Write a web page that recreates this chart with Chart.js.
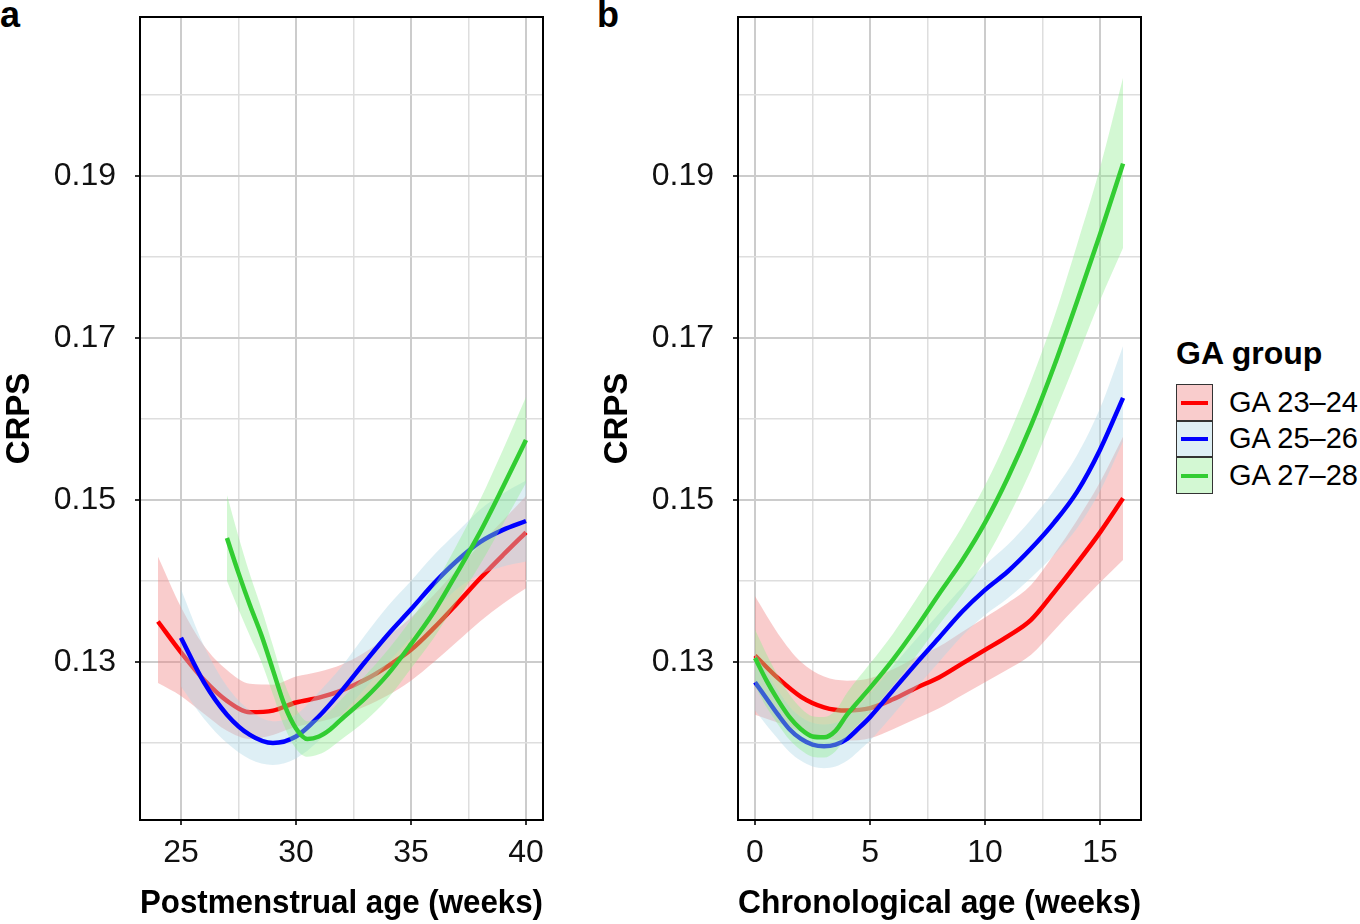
<!DOCTYPE html>
<html>
<head>
<meta charset="utf-8">
<script src="https://cdn.jsdelivr.net/npm/chart.js@4.4.1/dist/chart.umd.min.js"></script>
<style>
  html,body{margin:0;padding:0;background:#fff;}
  body{width:1360px;height:924px;position:relative;overflow:hidden;font-family:"Liberation Sans",Arial,sans-serif;color:#000;}
  .panel{position:absolute;top:0;width:560px;height:924px;}
  .tag{position:absolute;top:-6px;font-weight:bold;font-size:36px;}
  #legend{position:absolute;left:1176px;top:335px;}
  #legend .ttl{font-weight:bold;font-size:32px;margin-bottom:12px;}
  .key{display:flex;align-items:center;height:36.5px;}
  .box{width:35px;height:34.5px;border:1.2px solid #333;position:relative;box-sizing:content-box;}
  .box i{position:absolute;left:4px;right:4px;top:15.5px;height:4px;}
  .key span{font-size:29px;margin-left:16px;}
</style>
</head>
<body>
<div class="tag" style="left:0">a</div>
<div class="tag" style="left:597px">b</div>
<div class="panel" style="left:0"><canvas id="chartA" width="560" height="924"></canvas></div>
<div class="panel" style="left:598px"><canvas id="chartB" width="560" height="924"></canvas></div>
<div id="legend">
  <div class="ttl">GA group</div>
  <div class="key"><div class="box" style="background:rgba(240,128,128,.4)"><i style="background:#ff0000"></i></div><span>GA 23–24</span></div>
  <div class="key"><div class="box" style="background:rgba(173,216,230,.4)"><i style="background:#0000ff"></i></div><span>GA 25–26</span></div>
  <div class="key"><div class="box" style="background:rgba(144,238,144,.4)"><i style="background:#32cd32"></i></div><span>GA 27–28</span></div>
</div>
<script>
// ---- panel a: postmenstrual age ----
var pmaAge23 = [24,25,26,27,28,29,30,31,32,33,34,35,36,37,38,39,40];
var pmaMean23 = [0.1350,0.1312,0.1278,0.1252,0.1238,0.1240,0.1250,0.1256,0.1265,0.1278,0.1295,0.1315,0.1342,0.1372,0.1403,0.1432,0.1460];
var pmaLow23  = [0.1274,0.1258,0.1236,0.1215,0.1205,0.1210,0.1220,0.1226,0.1234,0.1245,0.1259,0.1277,0.1300,0.1325,0.1350,0.1372,0.1391];
var pmaHigh23 = [0.1430,0.1368,0.1320,0.1290,0.1273,0.1272,0.1282,0.1288,0.1297,0.1312,0.1332,0.1355,0.1383,0.1414,0.1445,0.1475,0.1505];

var pmaAge25 = [25,26,27,28,29,30,31,32,33,34,35,36,37,38,39,40];
var pmaMean25 = [0.1330,0.1275,0.1235,0.1210,0.1200,0.1208,0.1233,0.1265,0.1300,0.1334,0.1365,0.1397,0.1425,0.1448,0.1463,0.1474];
var pmaLow25  = [0.1270,0.1230,0.1200,0.1180,0.1173,0.1181,0.1203,0.1235,0.1267,0.1299,0.1330,0.1362,0.1390,0.1408,0.1418,0.1424];
var pmaHigh25 = [0.1390,0.1320,0.1270,0.1240,0.1227,0.1235,0.1263,0.1295,0.1333,0.1369,0.1400,0.1432,0.1460,0.1488,0.1508,0.1524];

var pmaAge27 = [27,27.5,28,28.5,29,29.5,30,30.5,31,31.5,32,33,34,35,36,37,38,39,40];
var pmaMean27 = [0.1453,0.1410,0.1370,0.1333,0.1290,0.1247,0.1218,0.1205,0.1208,0.1217,0.1230,0.1255,0.1285,0.1322,0.1362,0.1410,0.1460,0.1516,0.1574];
var pmaLow27  = [0.1400,0.1365,0.1332,0.1300,0.1260,0.1220,0.1193,0.1183,0.1186,0.1194,0.1205,0.1227,0.1255,0.1292,0.1330,0.1375,0.1420,0.1470,0.1521];
var pmaHigh27 = [0.1506,0.1455,0.1408,0.1366,0.1320,0.1274,0.1243,0.1227,0.1230,0.1240,0.1255,0.1283,0.1315,0.1352,0.1394,0.1445,0.1500,0.1562,0.1627];

// ---- panel b: chronological age ----
var caAge23 = [0,1,2,3,4,5,6,7,8,9,10,11,12,13,14,15,16];
var caMean23 = [0.1308,0.1280,0.1257,0.1244,0.1240,0.1243,0.1254,0.1268,0.1281,0.1298,0.1315,0.1332,0.1352,0.1386,0.1422,0.1460,0.1502];
var caLow23  = [0.1235,0.1225,0.1214,0.1206,0.1203,0.1206,0.1217,0.1230,0.1243,0.1259,0.1275,0.1291,0.1309,0.1339,0.1369,0.1398,0.1426];
var caHigh23 = [0.1381,0.1335,0.1300,0.1282,0.1277,0.1280,0.1291,0.1306,0.1319,0.1337,0.1355,0.1373,0.1395,0.1433,0.1475,0.1522,0.1578];

var caAge25 = [0,0.5,1,1.5,2,2.5,3,3.5,4,4.5,5,6,7,8,9,10,11,12,13,14,15,16];
var caMean25 = [0.1275,0.1255,0.1235,0.1217,0.1205,0.1198,0.1196,0.1198,0.1205,0.1218,0.1232,0.1265,0.1298,0.1330,0.1362,0.1389,0.1412,0.1440,0.1472,0.1510,0.1562,0.1626];
var caLow25  = [0.1240,0.1222,0.1205,0.1189,0.1178,0.1171,0.1169,0.1171,0.1178,0.1190,0.1203,0.1235,0.1268,0.1300,0.1332,0.1358,0.1379,0.1404,0.1432,0.1465,0.1511,0.1572];
var caHigh25 = [0.1310,0.1288,0.1265,0.1245,0.1232,0.1225,0.1223,0.1225,0.1232,0.1246,0.1261,0.1295,0.1328,0.1360,0.1392,0.1420,0.1445,0.1476,0.1512,0.1555,0.1613,0.1690];

var caAge27 = [0,0.5,1,1.5,2,2.5,3,3.5,4,5,6,7,8,9,10,11,12,13,14,15,16];
var caMean27 = [0.1305,0.1277,0.1253,0.1232,0.1217,0.1208,0.1207,0.1215,0.1235,0.1268,0.1303,0.1342,0.1384,0.1425,0.1472,0.1528,0.1592,0.1665,0.1745,0.1828,0.1915];
var caLow27  = [0.1270,0.1244,0.1223,0.1204,0.1191,0.1183,0.1182,0.1190,0.1208,0.1238,0.1271,0.1307,0.1346,0.1383,0.1426,0.1478,0.1537,0.1605,0.1675,0.1746,0.1811];
var caHigh27 = [0.1340,0.1310,0.1283,0.1260,0.1243,0.1233,0.1232,0.1240,0.1262,0.1298,0.1335,0.1377,0.1422,0.1467,0.1518,0.1578,0.1647,0.1725,0.1815,0.1910,0.2021];

// ticks / gridlines
var yTicks = [0.12,0.13,0.14,0.15,0.16,0.17,0.18,0.19,0.20];
var yMajor = [0.13,0.15,0.17,0.19];
var pmaTicks = [25,27.5,30,32.5,35,37.5,40];
var pmaMajor = [25,30,35,40];
var caTicks = [0,2.5,5,7.5,10,12.5,15];
var caMajor = [0,5,10,15];

var lineCols = ['#ff0000','#0000ff','#32cd32'];
var bandCols = ['rgba(240,128,128,0.4)','rgba(173,216,230,0.4)','rgba(144,238,144,0.4)'];

function pts(xs, ys){ return xs.map(function(x,i){ return {x:x, y:ys[i]}; }); }
function isIn(list, v){ return list.some(function(m){ return Math.abs(m-v) < 1e-6; }); }

function groupSets(xs, mean, lo, hi, k){
  var base = 60 - k*20;
  var common = {pointRadius:0, cubicInterpolationMode:'monotone'};
  return [
    Object.assign({data:pts(xs,lo), borderColor:'transparent', borderWidth:0, fill:false, order:base+1}, common),
    Object.assign({data:pts(xs,hi), borderColor:'transparent', borderWidth:0, backgroundColor:bandCols[k], fill:'-1', order:base+1}, common),
    Object.assign({data:pts(xs,mean), borderColor:lineCols[k], borderWidth:4.5, fill:false, order:base}, common)
  ];
}

var framePlugin = {
  id:'frame',
  afterDatasetsDraw:function(chart){
    var a = chart.chartArea, c = chart.ctx;
    c.save(); c.strokeStyle='#000'; c.lineWidth=2;
    c.strokeRect(a.left, a.top, a.right-a.left, a.bottom-a.top);
    c.restore();
  }
};

function makeChart(id, sets, xMin, xMax, xTicks, xMajor, xTitle){
  var tickFont = {family:'"Liberation Sans", Arial, sans-serif', size:32};
  var titleFont = {family:'"Liberation Sans", Arial, sans-serif', size:33, weight:'bold'};
  return new Chart(document.getElementById(id).getContext('2d'), {
    type:'line',
    data:{datasets:sets},
    plugins:[framePlugin],
    options:{
      responsive:false, animation:false, events:[],
      layout:{padding:{top:17, right:17, bottom:0, left:0}},
      plugins:{legend:{display:false}, tooltip:{enabled:false}},
      scales:{
        x:{
          type:'linear', min:xMin, max:xMax,
          afterBuildTicks:function(s){ s.ticks = xTicks.map(function(v){ return {value:v}; }); },
          afterFit:function(s){ s.height = 104; s.paddingLeft = 0; s.paddingRight = 0; },
          ticks:{autoSkip:false, maxRotation:0, padding:9, color:'#111', font:tickFont,
            callback:function(v){ return isIn(xMajor, v) ? String(v) : ''; }},
          grid:{
            color:function(ctx){ return ctx.tick && isIn(xMajor, ctx.tick.value) ? '#cccccc' : '#dedede'; },
            lineWidth:function(ctx){ return ctx.tick && isIn(xMajor, ctx.tick.value) ? 2 : 1.5; },
            tickColor:function(ctx){ return ctx.tick && isIn(xMajor, ctx.tick.value) ? '#333' : 'rgba(0,0,0,0)'; },
            tickLength:5, tickWidth:2
          },
          border:{display:false},
          title:{display:true, text:xTitle, color:'#000', font:titleFont, padding:{top:0, bottom:0}}
        },
        y:{
          min:0.1105, max:0.2096,
          afterBuildTicks:function(s){ s.ticks = yTicks.map(function(v){ return {value:v}; }); },
          afterFit:function(s){ s.width = 140; s.paddingTop = 0; s.paddingBottom = 0; },
          ticks:{padding:19, color:'#111', font:tickFont,
            callback:function(v){ return isIn(yMajor, v) ? v.toFixed(2) : ''; }},
          grid:{
            color:function(ctx){ return ctx.tick && isIn(yMajor, ctx.tick.value) ? '#cccccc' : '#dedede'; },
            lineWidth:function(ctx){ return ctx.tick && isIn(yMajor, ctx.tick.value) ? 2 : 1.5; },
            tickColor:function(ctx){ return ctx.tick && isIn(yMajor, ctx.tick.value) ? '#333' : 'rgba(0,0,0,0)'; },
            tickLength:5, tickWidth:2
          },
          border:{display:false},
          title:{display:true, text:'CRPS', color:'#000', font:titleFont, padding:{top:0, bottom:0}}
        }
      }
    }
  });
}

var setsA = [].concat(
  groupSets(pmaAge23, pmaMean23, pmaLow23, pmaHigh23, 0),
  groupSets(pmaAge25, pmaMean25, pmaLow25, pmaHigh25, 1),
  groupSets(pmaAge27, pmaMean27, pmaLow27, pmaHigh27, 2)
);
var setsB = [].concat(
  groupSets(caAge23, caMean23, caLow23, caHigh23, 0),
  groupSets(caAge25, caMean25, caLow25, caHigh25, 1),
  groupSets(caAge27, caMean27, caLow27, caHigh27, 2)
);

makeChart('chartA', setsA, 23.22, 40.74, pmaTicks, pmaMajor, 'Postmenstrual age (weeks)');
makeChart('chartB', setsB, -0.74, 16.78, caTicks, caMajor, 'Chronological age (weeks)');
</script>
</body>
</html>
